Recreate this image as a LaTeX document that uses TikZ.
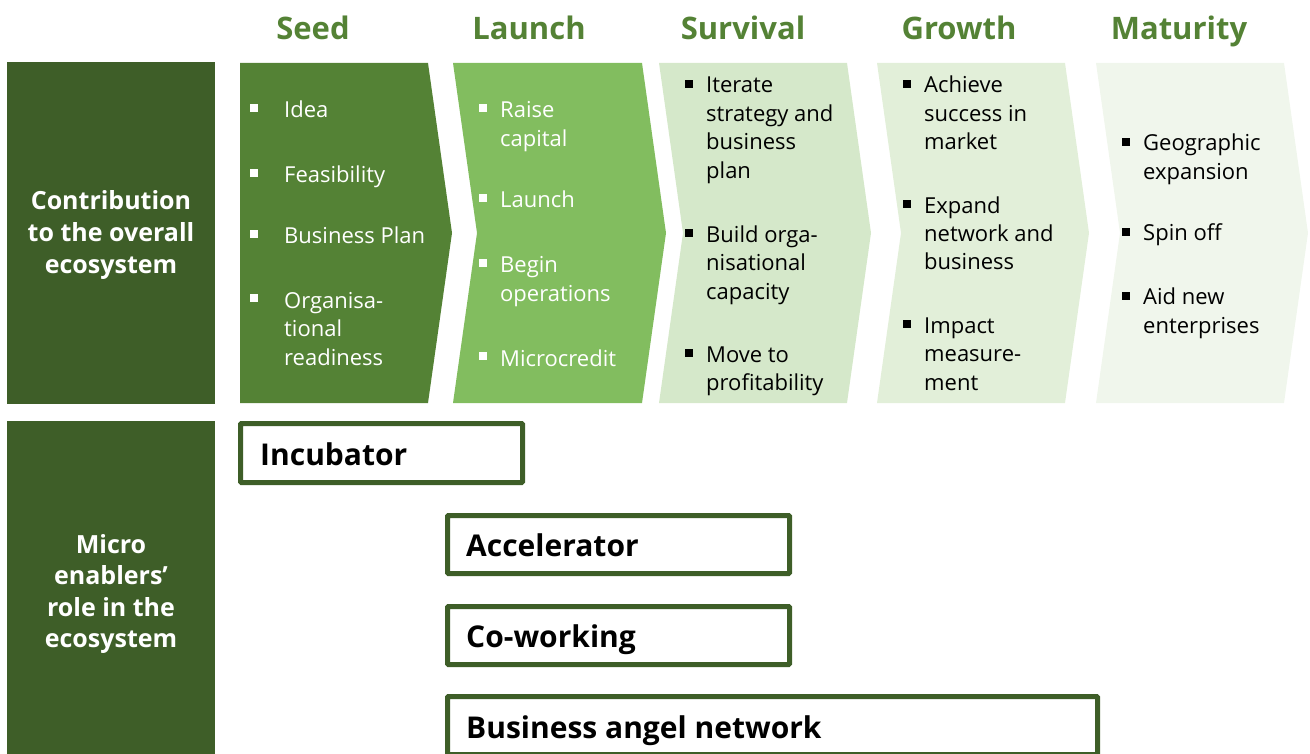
\documentclass[tikz,border=0pt]{standalone}
\usepackage{fontspec}
\setmainfont{Open Sans}
\definecolor{seedc}{HTML}{548235}
\definecolor{launchc}{HTML}{82BD5F}
\definecolor{survc}{HTML}{D5E8CA}
\definecolor{growc}{HTML}{E2EFD9}
\definecolor{matc}{HTML}{F0F6EC}
\definecolor{darkg}{HTML}{3E5E28}
\definecolor{hdg}{HTML}{548235}
\begin{document}
\begin{tikzpicture}[x=1pt,y=-1pt,
  hd/.style={font=\fontsize{31}{36}\selectfont\bfseries, text=hdg, inner sep=0pt, anchor=base},
  item/.style={font=\fontsize{22}{28.5}\selectfont, anchor=base west, align=left, inner sep=0pt},
  itemw/.style={item, text=white},
  bulw/.style={fill=white, minimum size=7.5pt, inner sep=0pt},
  bulk/.style={fill=black, minimum size=7.5pt, inner sep=0pt},
  side/.style={fill=darkg, draw=none, inner sep=0pt},
  sidet/.style={text=white, align=center, inner sep=0pt, anchor=base,
    font=\fontsize{25}{31.5}\selectfont\bfseries},
  ebox/.style={draw=darkg, line width=5pt, fill=white, rounded corners=1pt, inner sep=0pt},
  elab/.style={font=\fontsize{30}{36}\selectfont\bfseries, anchor=base west, inner sep=0pt}]
\useasboundingbox (0,0) rectangle (1310,754);
\clip (0,0) rectangle (1310,754);

% headings
\node[hd] (hseed) at (313,40) {Seed};
\node[hd] (hlaunch) at (529,40) {Launch};
\node[hd] (hsurv) at (743,40) {Survival};
\node[hd] (hgrow) at (959,40) {Growth};
\node[hd] (hmat) at (1179,40) {Maturity};

% side blocks (multi-line text: base = last line baseline)
\node[side, minimum width=208pt, minimum height=342pt] (s1) at (111,233) {};
\node[sidet] (s1t) at (111,273) {Contribution\\to the overall\\ecosystem};
\node[side, minimum width=208pt, minimum height=340pt] (s2) at (111,591) {};
\node[sidet] (s2t) at (111,647.5) {Micro\\enablers’\\role in the\\ecosystem};

% chevrons
\fill[seedc] (240,63) -- (428,63) -- (452,233) -- (428,403) -- (240,403) -- cycle;
\fill[launchc] (453,63) -- (642,63) -- (666,233) -- (642,403) -- (453,403) -- (477,233) -- cycle;
\fill[survc] (659,63) -- (847,63) -- (871,233) -- (847,403) -- (659,403) -- (683,233) -- cycle;
\fill[growc] (877,63) -- (1065,63) -- (1089,233) -- (1065,403) -- (877,403) -- (901,233) -- cycle;
\fill[matc] (1096,63) -- (1284,63) -- (1308,233) -- (1284,403) -- (1096,403) -- (1120,233) -- cycle;

% seed
\node[bulw] (sb1) at (254,108) {};
\node[itemw] (si1) at (284,118) {Idea};
\node[bulw] (sb2) at (254,173) {};
\node[itemw] (si2) at (284,183) {Feasibility};
\node[bulw] (sb3) at (254,234) {};
\node[itemw] (si3) at (284,244) {Business Plan};
\node[bulw] (sb4) at (254,298) {};
\node[itemw] (si4) at (284,365) {Organisa-\\tional\\readiness};

% launch
\node[bulw] (lb1) at (483,108) {};
\node[itemw] (li1) at (500,146.5) {Raise\\capital};
\node[bulw] (lb2) at (483,198) {};
\node[itemw] (li2) at (500,208) {Launch};
\node[bulw] (lb3) at (483,263) {};
\node[itemw] (li3) at (500,301.5) {Begin\\operations};
\node[bulw] (lb4) at (483,356) {};
\node[itemw] (li4) at (500,366) {Microcredit};

% survival
\node[bulk] (vb1) at (689,84) {};
\node[item] (vi1) at (706,178.5) {Iterate\\strategy and\\business\\plan};
\node[bulk] (vb2) at (689,233) {};
\node[item] (vi2) at (706,299) {Build orga-\\nisational\\capacity};
\node[bulk] (vb3) at (689,353) {};
\node[item] (vi3) at (706,390.5) {Move to\\profitability};

% growth
\node[bulk] (gb1) at (907,84) {};
\node[item] (gi1) at (924,150) {Achieve\\success in\\market};
\node[bulk] (gb2) at (907,204) {};
\node[item] (gi2) at (924,270) {Expand\\network and\\business};
\node[bulk] (gb3) at (907,324) {};
\node[item] (gi3) at (924,390) {Impact\\measure-\\ment};

% maturity
\node[bulk] (mb1) at (1126,142) {};
\node[item] (mi1) at (1143,179.5) {Geographic\\expansion};
\node[bulk] (mb2) at (1126,232) {};
\node[item] (mi2) at (1143,241) {Spin off};
\node[bulk] (mb3) at (1126,296) {};
\node[item] (mi3) at (1143,333.5) {Aid new\\enterprises};

% enabler boxes
\node[ebox, minimum width=282pt, minimum height=59pt] (inc) at (381.5,453) {};
\node[elab] (incl) at (260,465) {Incubator};
\node[ebox, minimum width=342pt, minimum height=58pt] (acc) at (618.5,544.5) {};
\node[elab] (accl) at (466,556) {Accelerator};
\node[ebox, minimum width=342pt, minimum height=58pt] (cow) at (618.5,635.5) {};
\node[elab] (cowl) at (466,647) {Co-working};
\node[ebox, minimum width=650pt, minimum height=58pt] (ban) at (772.5,725.5) {};
\node[elab] (banl) at (466,738) {Business angel network};
\end{tikzpicture}
\end{document}
